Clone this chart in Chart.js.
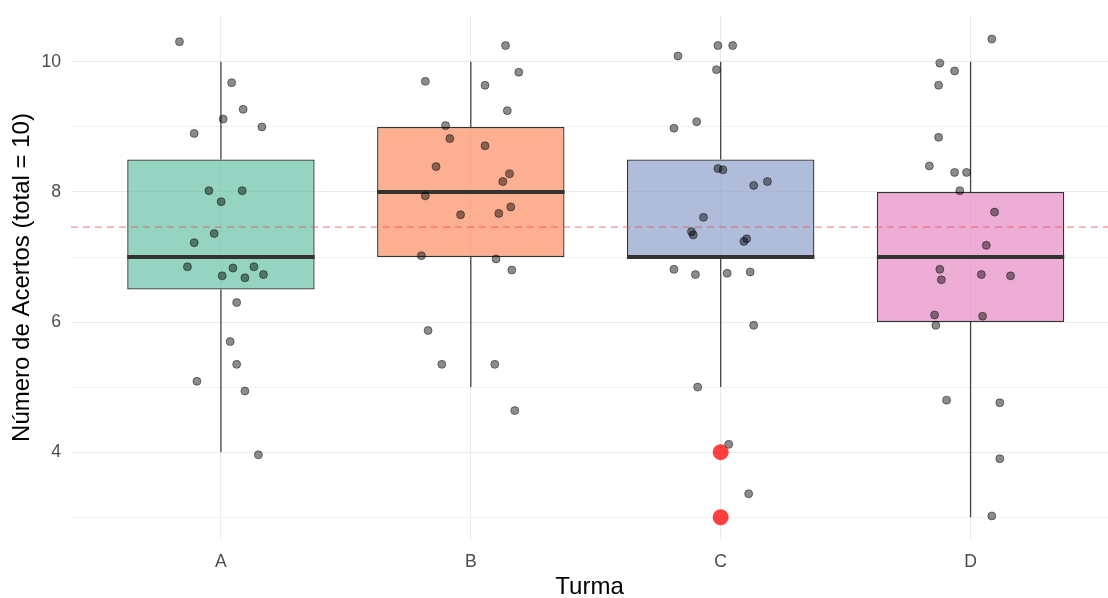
<!DOCTYPE html>
<html>
<head>
<meta charset="utf-8">
<script src="https://cdn.jsdelivr.net/npm/chart.js@4"></script>
<style>
  body { margin: 0; background: #fff; }
  #wrap { width: 1108px; height: 598px; }
</style>
</head>
<body>
<div id="wrap"><canvas id="myChart" width="1108" height="598"></canvas></div>
<script>
// dados do boxplot
const turmas = ["A", "B", "C", "D"];
const q1 = [6.5, 7, 7, 6];
const mediana = [7, 8, 7, 7];
const q3 = [8.5, 9, 8.5, 8];
const bigodeInf = [4, 5, 5, 3];
const bigodeSup = [10, 10, 10, 10];
const coresTurma = ["rgba(102,194,165,0.7)", "rgba(252,141,98,0.7)", "rgba(141,160,203,0.7)", "rgba(231,138,195,0.7)"];
const mediaGeral = 7.46;

// outliers (turma C)
const outlierTurma = [3, 3];
const outlierValor = [4, 3];

// pontos com jitter: deslocamento horizontal e valor
const jitterA_dx = [-0.166, 0.043, 0.089, 0.009, 0.164, -0.107, -0.048, 0.085, 0.001, -0.027, -0.107, -0.134, 0.048, 0.132, 0.005, 0.096, 0.170, 0.063, 0.037, 0.063, -0.096, 0.096, 0.150];
const jitterA_y = [10.31, 9.68, 9.27, 9.12, 9.00, 8.90, 8.02, 8.02, 7.85, 7.36, 7.22, 6.85, 6.83, 6.85, 6.71, 6.68, 6.73, 6.30, 5.70, 5.35, 5.09, 4.94, 3.96];
const jitterB_dx = [0.139, 0.192, -0.182, 0.057, 0.146, -0.101, -0.084, 0.057, -0.139, 0.155, 0.128, -0.182, 0.160, -0.041, 0.112, -0.198, 0.101, 0.164, -0.171, -0.116, 0.096, 0.176];
const jitterB_y = [10.25, 9.84, 9.70, 9.64, 9.25, 9.02, 8.82, 8.71, 8.39, 8.28, 8.16, 7.94, 7.77, 7.65, 7.67, 7.02, 6.97, 6.80, 5.87, 5.35, 5.35, 4.64];
const jitterC_dx = [-0.011, 0.048, -0.171, -0.017, -0.096, -0.187, -0.011, 0.009, 0.187, 0.132, -0.069, -0.117, -0.110, 0.104, 0.093, -0.187, -0.101, 0.026, 0.118, 0.132, -0.092, 0.032, 0.112];
const jitterC_y = [10.25, 10.25, 10.09, 9.88, 9.08, 8.98, 8.36, 8.34, 8.16, 8.10, 7.61, 7.39, 7.34, 7.28, 7.24, 6.81, 6.73, 6.75, 6.77, 5.95, 5.00, 4.12, 3.36];
const jitterD_dx = [0.085, -0.123, -0.064, -0.128, -0.128, -0.165, -0.064, -0.016, -0.043, 0.096, 0.063, -0.123, -0.117, 0.043, 0.160, -0.144, 0.048, -0.139, -0.096, 0.117, 0.117, 0.085];
const jitterD_y = [10.35, 9.98, 9.86, 9.64, 8.84, 8.40, 8.30, 8.30, 8.02, 7.69, 7.18, 6.81, 6.65, 6.73, 6.71, 6.11, 6.09, 5.95, 4.80, 4.76, 3.90, 3.02];

const yTicks = [3, 4, 5, 6, 7, 8, 9, 10];
const xMin = 0.4, xMax = 4.55;
const yMin = 2.65, yMax = 10.72;
const larguraCaixa = 0.75;

const fonte = "'Liberation Sans', Arial, sans-serif";

const caixas = turmas.map((t, i) => ({ x: i + 1, y: [q1[i], q3[i]] }));

let bigodes = [];
turmas.forEach((t, i) => {
  bigodes.push({ x: i + 1, y: bigodeInf[i] }, { x: i + 1, y: q1[i] }, { x: i + 1, y: null });
  bigodes.push({ x: i + 1, y: q3[i] }, { x: i + 1, y: bigodeSup[i] }, { x: i + 1, y: null });
});

let medianas = [];
turmas.forEach((t, i) => {
  medianas.push({ x: i + 1 - larguraCaixa / 2, y: mediana[i] }, { x: i + 1 + larguraCaixa / 2, y: mediana[i] }, { x: i + 1, y: null });
});

const jitters = [[jitterA_dx, jitterA_y], [jitterB_dx, jitterB_y], [jitterC_dx, jitterC_y], [jitterD_dx, jitterD_y]];
let pontos = [];
jitters.forEach(([dx, ys], i) => {
  ys.forEach((v, k) => pontos.push({ x: i + 1 + dx[k], y: v }));
});

const outliers = outlierValor.map((v, k) => ({ x: outlierTurma[k], y: v }));

const ctx = document.getElementById("myChart").getContext("2d");

window.myChart = new Chart(ctx, {
  type: "bar",
  data: {
    datasets: [
      {
        type: "bar",
        data: caixas,
        backgroundColor: coresTurma,
        borderColor: "#333333",
        borderWidth: 1.3,
        borderSkipped: false,
        categoryPercentage: 1,
        barPercentage: larguraCaixa,
        order: 50,
      },
      {
        type: "line",
        data: bigodes,
        borderColor: "#444444",
        borderWidth: 1.3,
        pointRadius: 0,
        spanGaps: false,
        order: 40,
      },
      {
        type: "line",
        data: medianas,
        borderColor: "#333333",
        borderWidth: 4,
        borderCapStyle: "butt",
        pointRadius: 0,
        spanGaps: false,
        order: 30,
      },
      {
        type: "line",
        data: [{ x: xMin, y: mediaGeral }, { x: xMax, y: mediaGeral }],
        borderColor: "rgba(235,80,80,0.8)",
        borderWidth: 1,
        borderDash: [7, 5],
        pointRadius: 0,
        order: 20,
      },
      {
        type: "scatter",
        data: pontos,
        backgroundColor: "rgba(0,0,0,0.45)",
        borderColor: "rgba(0,0,0,0.45)",
        borderWidth: 1,
        pointRadius: 4,
        order: 10,
      },
      {
        type: "scatter",
        data: outliers,
        backgroundColor: "rgba(255,0,0,0.75)",
        borderWidth: 0,
        pointRadius: 8,
        order: 0,
      },
    ],
  },
  options: {
    responsive: false,
    animation: false,
    layout: { autoPadding: false, padding: { top: 15, right: 0, left: 0, bottom: 0 } },
    plugins: {
      legend: { display: false },
      tooltip: { enabled: false },
    },
    scales: {
      x: {
        type: "linear",
        min: xMin,
        max: xMax,
        offset: false,
        afterBuildTicks: (s) => { s.ticks = turmas.map((t, i) => ({ value: i + 1 })); },
        afterFit: (s) => {
          s.height = 58;
          s.paddingLeft = 0;
          s.paddingRight = 0;
        },
        grid: { offset: false, color: "#EBEBEB", lineWidth: 1, drawTicks: false },
        border: { display: false },
        ticks: {
          padding: 12,
          color: "#4D4D4D",
          font: { family: fonte, size: 17.6 },
          callback: (v) => turmas[v - 1] || "",
        },
        title: {
          display: true,
          text: "Turma",
          color: "#000",
          font: { family: fonte, size: 24, lineHeight: 1 },
          padding: { top: 0, bottom: -1 },
        },
      },
      y: {
        type: "linear",
        min: yMin,
        max: yMax,
        afterBuildTicks: (s) => { s.ticks = yTicks.map((v) => ({ value: v })); },
        afterFit: (s) => {
          s.width = 71;
          s.paddingTop = 0;
          s.paddingBottom = 0;
        },
        grid: {
          color: "#EBEBEB",
          lineWidth: (c) => (c.tick && c.tick.value % 2 ? 0.7 : 1.1),
          drawTicks: false,
        },
        border: { display: false },
        ticks: {
          padding: 10,
          color: "#4D4D4D",
          font: { family: fonte, size: 17.6 },
          callback: (v) => (v % 2 === 0 ? v : ""),
        },
        title: {
          display: true,
          text: "Número de Acertos (total = 10)",
          color: "#000",
          font: { family: fonte, size: 24, lineHeight: 1 },
          padding: { top: 10, bottom: 0 },
        },
      },
    },
  },
});
</script>
</body>
</html>
